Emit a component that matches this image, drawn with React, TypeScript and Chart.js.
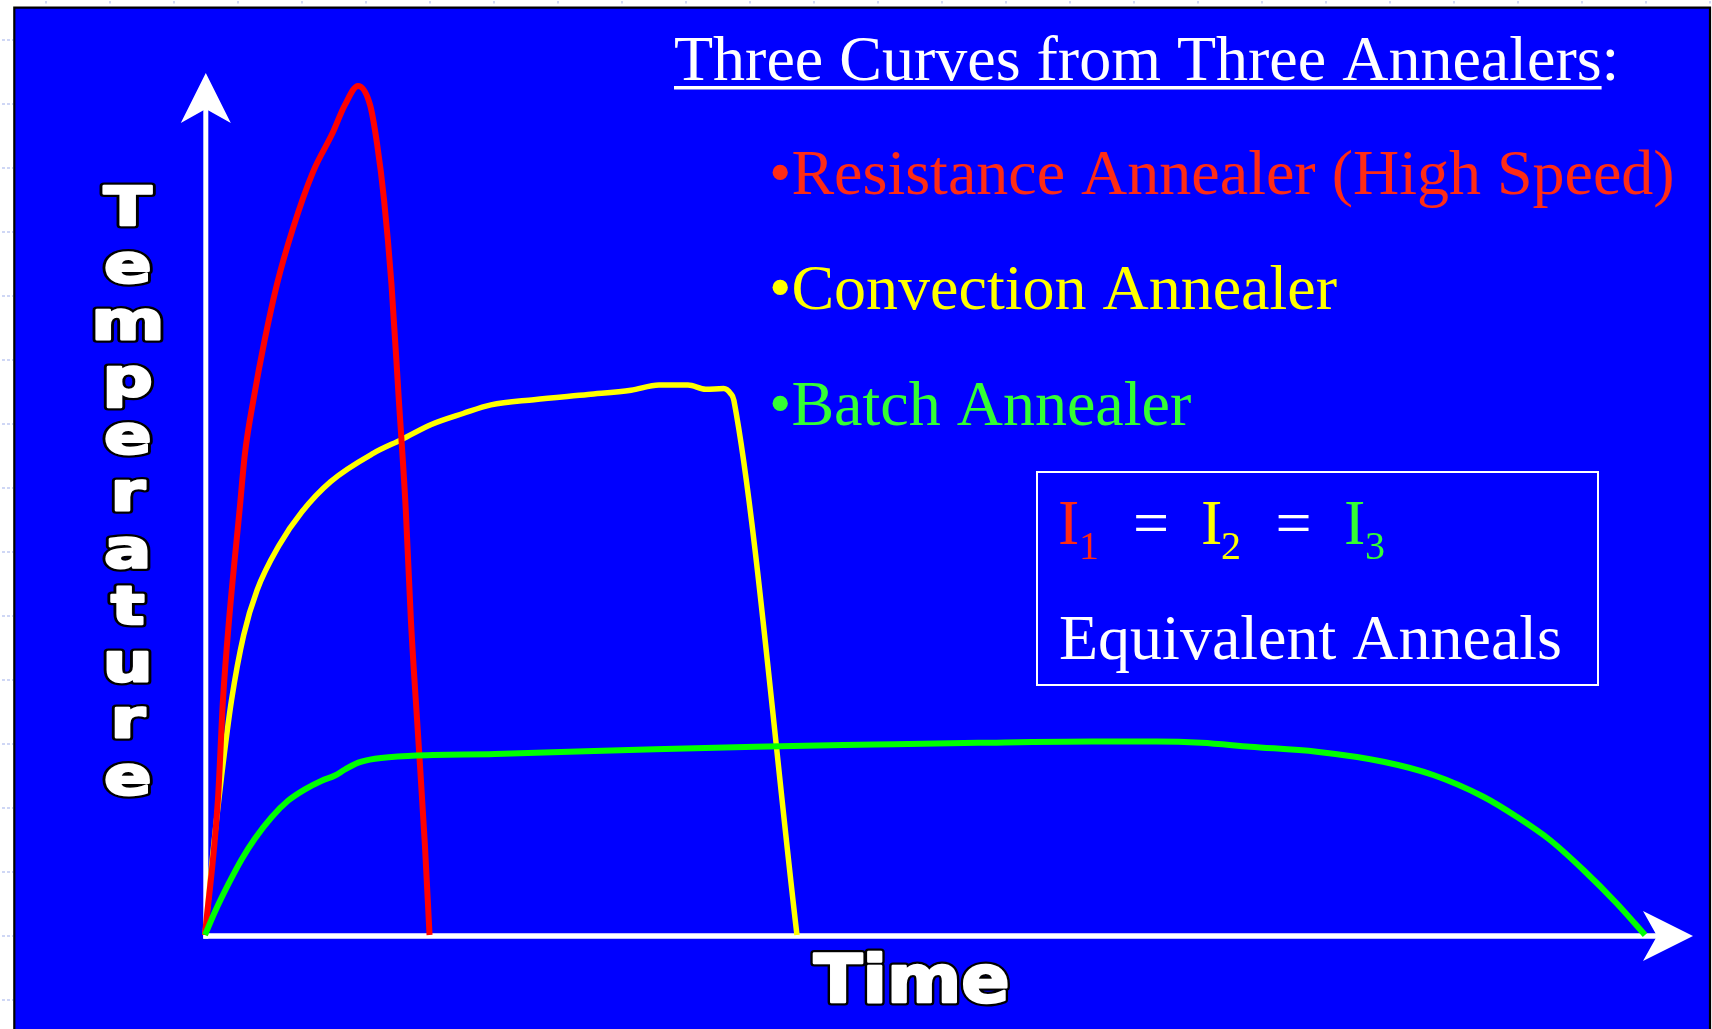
import React, { useEffect, useRef } from "react";
import { Chart, registerables } from "chart.js";

Chart.register(...registerables);

// ---- Data (time / temperature in arbitrary units, 0..100 = axis arrow tips) ----
const redTime = [0, 0.87, 1.21, 1.61, 2.33, 2.69, 3.3, 4.01, 4.84, 5.92, 7.26, 8.57, 9.41, 10.29, 11.1, 11.57, 12.04, 12.54, 13.02, 13.5, 13.85, 14.32, 14.79, 15.1];
const redTemp = [0, 15.7, 27.3, 36.4, 49.4, 55.9, 62.5, 69.0, 75.5, 82.0, 88.5, 93.0, 96.3, 98.5, 96.3, 91.8, 85.3, 75.5, 62.5, 49.4, 36.4, 23.4, 10.4, 0];

const yellowTime = [0, 0.5, 1.12, 1.78, 2.6, 3.5, 4.98, 6.52, 8.45, 11.34, 13.25, 15.18, 17.35, 19.23, 22.12, 25.76, 28.65, 30.53, 32.48, 33.67, 34.88, 35.35, 35.57, 39.81];
const yellowTemp = [0, 9.0, 18.5, 27.2, 34.8, 40.0, 45.2, 49.1, 52.6, 55.9, 57.5, 59.2, 60.5, 61.5, 62.1, 62.7, 63.2, 63.8, 63.8, 63.3, 63.4, 62.8, 62.0, 0];

const greenTime = [0, 0.67, 1.57, 2.47, 3.36, 4.49, 5.6, 6.72, 7.85, 8.74, 9.41, 10.31, 11.43, 13.9, 19.5, 30.26, 37.0, 45.0, 52.0, 59.65, 64.0, 67.0, 70.28, 74.76, 79.24, 82.6, 85.97, 88.21, 90.45, 92.7, 94.93, 96.84];
const greenTemp = [0, 2.7, 5.9, 8.8, 11.2, 13.7, 15.6, 16.9, 17.9, 18.5, 19.2, 20.0, 20.45, 20.8, 21.0, 21.55, 21.85, 22.1, 22.3, 22.45, 22.45, 22.3, 21.84, 21.26, 20.1, 18.56, 16.04, 13.72, 11.02, 7.54, 3.68, 0];

// ---- Text ----
const titleUnderlined = "Three Curves from Three Annealers";
const titleSuffix = ":";
const bulletLabels = ["\u2022Resistance Annealer (High Speed)", "\u2022Convection Annealer", "\u2022Batch Annealer"];
const equationSymbols = ["I", "I", "I"];
const equationSubscripts = ["1", "2", "3"];
const equalsSign = "=";
const boxCaption = "Equivalent Anneals";
const xAxisLabel = "Time";
const yAxisLabel = "Temperature";

// ---- Styles ----
const BLUE = "#0000ff";
const LINE_COLORS = ["#ff0000", "#ffff00", "#00ff00"];
const TEXT_COLORS = ["#ff2b14", "#ffff00", "#33ff33"];
const SERIF = '"Liberation Serif", "Times New Roman", serif';
const SANS = '"DejaVu Sans", "Liberation Sans", sans-serif';

const toPoints = (xs: number[], ys: number[]) => xs.map((x, i) => ({ x, y: ys[i] }));

function outlinedText(ctx: CanvasRenderingContext2D, text: string, cx: number, baseline: number, size: number, sx: number) {
  ctx.save();
  ctx.translate(cx, baseline);
  ctx.scale(sx, 1);
  ctx.font = `bold ${size}px ${SANS}`;
  ctx.textAlign = "center";
  ctx.textBaseline = "alphabetic";
  ctx.lineJoin = "round";
  ctx.strokeStyle = "#000000";
  ctx.lineWidth = 7;
  ctx.strokeText(text, 0, 0);
  ctx.strokeStyle = "#ffffff";
  ctx.lineWidth = 2.5;
  ctx.strokeText(text, 0, 0);
  ctx.fillStyle = "#ffffff";
  ctx.fillText(text, 0, 0);
  ctx.restore();
}

const slidePlugin = {
  id: "slide",
  beforeDraw(chart: any) {
    const ctx: CanvasRenderingContext2D = chart.ctx;
    const W = chart.width;
    const H = chart.height;
    ctx.save();
    ctx.fillStyle = "#ffffff";
    ctx.fillRect(0, 0, W, H);
    // ruler marks
    ctx.fillStyle = "#cfd7f5";
    for (let x = 46; x < W; x += 64) ctx.fillRect(x - 1, 1, 2, 2.5);
    ctx.strokeStyle = "#cfd7f5";
    ctx.lineWidth = 2;
    ctx.setLineDash([3, 2]);
    for (let y = 40; y < H; y += 64) {
      ctx.beginPath();
      ctx.moveTo(2, y);
      ctx.lineTo(13, y);
      ctx.stroke();
    }
    ctx.setLineDash([]);
    // blue panel
    ctx.fillStyle = BLUE;
    ctx.fillRect(14, 8, 1696, H);
    ctx.strokeStyle = "#000000";
    ctx.lineWidth = 2.2;
    ctx.beginPath();
    ctx.moveTo(14.3, H + 5);
    ctx.lineTo(14.3, 7.7);
    ctx.lineTo(1710, 7.7);
    ctx.lineTo(1710, H + 5);
    ctx.stroke();
    ctx.restore();
  },
  beforeDatasetsDraw(chart: any) {
    const ctx: CanvasRenderingContext2D = chart.ctx;
    const xs = chart.scales.x;
    const ys = chart.scales.y;
    const x0 = xs.getPixelForValue(0) + 0.8;
    const y0 = ys.getPixelForValue(0) + 1;
    const xTip = xs.getPixelForValue(100) + 1;
    const yTip = ys.getPixelForValue(100);
    ctx.save();
    ctx.fillStyle = "#ffffff";
    // shafts
    ctx.fillRect(x0 - 2.5, yTip + 30, 5, y0 + 2.7 - (yTip + 30));
    ctx.fillRect(x0 - 2.5, y0 - 2.75, xTip - 30 - (x0 - 2.5), 5.5);
    // y arrow head
    ctx.beginPath();
    ctx.moveTo(x0, yTip);
    ctx.lineTo(x0 + 25, yTip + 50);
    ctx.lineTo(x0, yTip + 36);
    ctx.lineTo(x0 - 25, yTip + 50);
    ctx.closePath();
    ctx.fill();
    // x arrow head
    ctx.beginPath();
    ctx.moveTo(xTip, y0);
    ctx.lineTo(xTip - 50, y0 - 25);
    ctx.lineTo(xTip - 36, y0);
    ctx.lineTo(xTip - 50, y0 + 25);
    ctx.closePath();
    ctx.fill();
    ctx.restore();
  },
  afterDatasetsDraw(chart: any) {
    const ctx: CanvasRenderingContext2D = chart.ctx;
    ctx.save();
    ctx.textBaseline = "alphabetic";
    ctx.textAlign = "left";

    // title
    ctx.font = `64px ${SERIF}`;
    ctx.fillStyle = "#ffffff";
    ctx.fillText(titleUnderlined + titleSuffix, 674, 80);
    const uw = ctx.measureText(titleUnderlined).width;
    ctx.fillRect(674, 86, uw, 3.5);

    // bullets
    bulletLabels.forEach((label, i) => {
      ctx.fillStyle = TEXT_COLORS[i];
      ctx.fillText(label, 769, 194 + i * 115.3);
    });

    // box
    ctx.strokeStyle = "#ffffff";
    ctx.lineWidth = 2;
    ctx.strokeRect(1037, 472, 561, 213);

    const symX = [1058, 1201, 1344];
    const subX = [1079, 1221, 1365];
    equationSymbols.forEach((s, i) => {
      ctx.fillStyle = TEXT_COLORS[i];
      ctx.font = `64px ${SERIF}`;
      ctx.fillText(s, symX[i], 544);
      ctx.font = `40px ${SERIF}`;
      ctx.fillText(equationSubscripts[i], subX[i], 559);
    });
    ctx.fillStyle = "#ffffff";
    ctx.font = `64px ${SERIF}`;
    ctx.textAlign = "center";
    ctx.fillText(equalsSign, 1151, 544);
    ctx.fillText(equalsSign, 1293.5, 544);
    ctx.textAlign = "left";
    ctx.fillText(boxCaption, 1059, 659);

    // axis labels
    outlinedText(ctx, xAxisLabel, 911.7, 1001.5, 66, 1.08);
    const letters = Array.from(yAxisLabel);
    letters.forEach((ch, i) => {
      outlinedText(ctx, ch, 127.7, 225.3 + i * 56.9, 54, 1.3);
    });
    ctx.restore();
  },
};

export default function App() {
  const ref = useRef<HTMLCanvasElement>(null);
  useEffect(() => {
    const canvas = ref.current;
    if (!canvas) return;
    const datasets = [
      { label: "Batch Annealer", data: toPoints(greenTime, greenTemp), borderColor: LINE_COLORS[2], borderWidth: 6 },
      { label: "Resistance Annealer (High Speed)", data: toPoints(redTime, redTemp), borderColor: LINE_COLORS[0], borderWidth: 6 },
      { label: "Convection Annealer", data: toPoints(yellowTime, yellowTemp), borderColor: LINE_COLORS[1], borderWidth: 5.5 },
    ].map((d) => ({
      ...d,
      pointRadius: 0,
      pointHoverRadius: 0,
      fill: false,
      cubicInterpolationMode: "monotone" as const,
      clip: false as any,
      borderCapStyle: "butt" as const,
      borderJoinStyle: "round" as const,
    }));
    const chart = new Chart(canvas, {
      type: "line",
      data: { datasets },
      options: {
        animation: false,
        responsive: false,
        maintainAspectRatio: false,
        events: [],
        layout: { padding: { left: 205, right: 20, top: 73, bottom: 94 } },
        plugins: { legend: { display: false }, title: { display: false }, tooltip: { enabled: false } },
        scales: {
          x: { type: "linear", min: 0, max: 100, display: false },
          y: { type: "linear", min: 0, max: 100, display: false },
        },
      },
      plugins: [slidePlugin],
    });
    let alive = true;
    const fonts = [`64px ${SERIF}`, `40px ${SERIF}`, `bold 66px ${SANS}`];
    Promise.all(fonts.map((f) => (document as any).fonts.load(f)))
      .then(() => {
        if (alive) chart.draw();
      })
      .catch(() => {});
    return () => {
      alive = false;
      chart.destroy();
    };
  }, []);
  return (
    <div style={{ position: "fixed", left: 0, top: 0, width: 1712, height: 1029, overflow: "hidden", background: "#fff" }}>
      <canvas ref={ref} width={1712} height={1029} style={{ display: "block", width: 1712, height: 1029 }} />
    </div>
  );
}
